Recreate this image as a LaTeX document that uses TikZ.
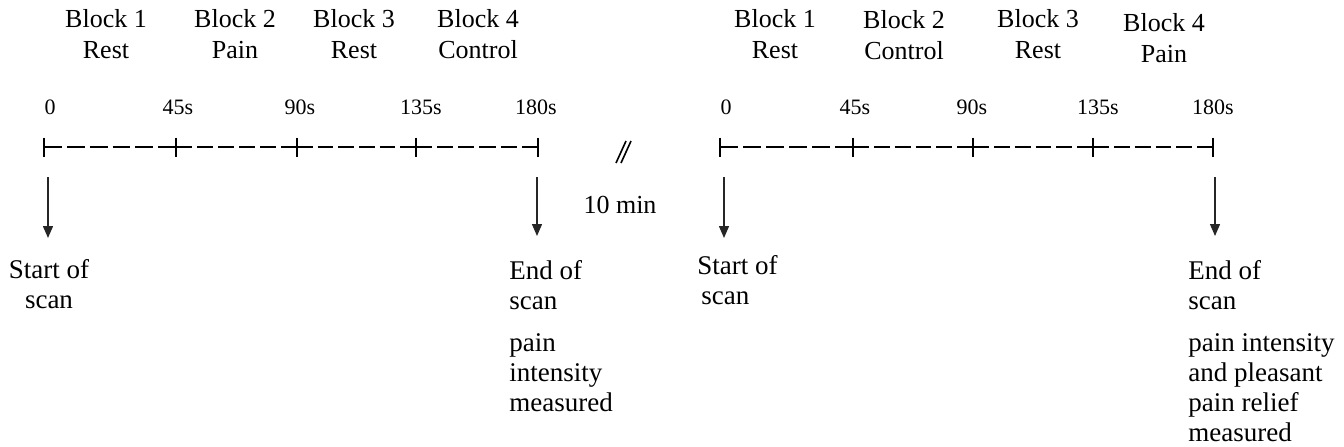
\documentclass[tikz,border=0pt]{standalone}
\usepackage{fontspec}
\setmainfont{Liberation Serif}
\usetikzlibrary{arrows.meta}
\begin{document}
\begin{tikzpicture}[x=0.5pt,y=-0.5pt,
  blk/.style={align=center, anchor=north, inner sep=0pt, font=\fontsize{13}{15.5}\selectfont},
  num/.style={anchor=base, inner sep=0pt, font=\fontsize{11}{12}\selectfont},
  lbl/.style={align=left, anchor=north west, inner sep=0pt, font=\fontsize{13.5}{15}\selectfont},
  tickmark/.style={line width=1.1pt},
  seg/.style={line width=1.1pt},
  arr/.style={-{Triangle[length=6pt,width=5pt]}, line width=0.7pt, draw=black!85},
  brk/.style={line width=0.8pt}
]
\useasboundingbox (0,0) rectangle (1344,446);

% ---------- left session ----------
\node[blk] (lb1) at (106,9) {Block 1\\Rest};
\node[blk] (lb2) at (235,9) {Block 2\\Pain};
\node[blk] (lb3) at (354,9) {Block 3\\Rest};
\node[blk] (lb4) at (478,9) {Block 4\\Control};

\node[num] (ln0) at (50,114) {0};
\node[num] (ln1) at (178,114) {45s};
\node[num] (ln2) at (300,114) {90s};
\node[num] (ln3) at (421,114) {135s};
\node[num] (ln4) at (536,114) {180s};

\coordinate (lt0) at (44,147);
\coordinate (lt1) at (176,147);
\coordinate (lt2) at (297,147);
\coordinate (lt3) at (416,147);
\coordinate (lt4) at (538,147);
\foreach \t in {lt0,lt1,lt2,lt3,lt4}
  \draw[tickmark] ([yshift=4.75pt]\t) -- ([yshift=-4.75pt]\t);
\draw[seg, dash pattern=on 8.92pt off 2.5pt] (lt0) -- (lt1);
\draw[seg, dash pattern=on 8.0pt off 2.5pt] (lt1) -- (lt2);
\draw[seg, dash pattern=on 7.83pt off 2.5pt] (lt2) -- (lt3);
\draw[seg, dash pattern=on 8.08pt off 2.5pt] (lt3) -- (lt4);

\coordinate (la1s) at (48,177);
\coordinate (la1e) at (48,238);
\coordinate (la2s) at (537,177);
\coordinate (la2e) at (537,236);
\draw[arr] (la1s) -- (la1e);
\draw[arr] (la2s) -- (la2e);

\node[blk, anchor=north, font=\fontsize{13.5}{15}\selectfont] (lstart) at (49,259) {Start of\\scan};
\node[lbl] (lend) at (509,260) {End of\\scan\\[6pt]pain\\intensity\\measured};

% ---------- break ----------
\coordinate (br1a) at (616,163);
\coordinate (br1b) at (626,141);
\coordinate (br2a) at (621,163);
\coordinate (br2b) at (631,141);
\draw[brk] (br1a) -- (br1b);
\draw[brk] (br2a) -- (br2b);
\node[anchor=base, inner sep=0pt, font=\fontsize{13}{15}\selectfont] (gap) at (620,213) {10 min};

% ---------- right session ----------
\node[blk] (rb1) at (775,9) {Block 1\\Rest};
\node[blk] (rb2) at (904,10) {Block 2\\Control};
\node[blk] (rb3) at (1038,9) {Block 3\\Rest};
\node[blk] (rb4) at (1164,13) {Block 4\\Pain};

\node[num] (rn0) at (726,114) {0};
\node[num] (rn1) at (855,114) {45s};
\node[num] (rn2) at (972,114) {90s};
\node[num] (rn3) at (1098,114) {135s};
\node[num] (rn4) at (1213,114) {180s};

\coordinate (rt0) at (720,147);
\coordinate (rt1) at (853,147);
\coordinate (rt2) at (973,147);
\coordinate (rt3) at (1093,147);
\coordinate (rt4) at (1213,147);
\foreach \t in {rt0,rt1,rt2,rt3,rt4}
  \draw[tickmark] ([yshift=4.75pt]\t) -- ([yshift=-4.75pt]\t);
\draw[seg, dash pattern=on 9.0pt off 2.5pt] (rt0) -- (rt1);
\draw[seg, dash pattern=on 7.92pt off 2.5pt] (rt1) -- (rt2);
\draw[seg, dash pattern=on 7.92pt off 2.5pt] (rt2) -- (rt3);
\draw[seg, dash pattern=on 7.92pt off 2.5pt] (rt3) -- (rt4);

\coordinate (ra1s) at (724,177);
\coordinate (ra1e) at (724,238);
\coordinate (ra2s) at (1215,177);
\coordinate (ra2e) at (1215,236);
\draw[arr] (ra1s) -- (ra1e);
\draw[arr] (ra2s) -- (ra2e);

\node[lbl] (rstart) at (697,255) {Start of\\\hspace{2pt}scan};
\node[lbl] (rend) at (1188,260) {End of\\scan\\[6pt]pain intensity\\and pleasant\\pain relief\\measured};
\end{tikzpicture}
\end{document}
